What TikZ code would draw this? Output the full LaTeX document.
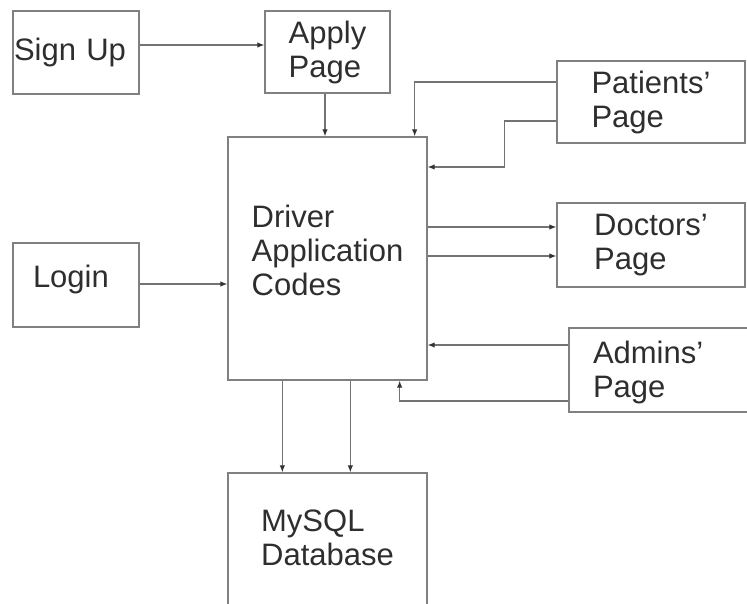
\documentclass[tikz,border=0pt]{standalone}
\usepackage{fontspec}
\setmainfont{Liberation Sans}
\usetikzlibrary{arrows.meta, calc}

\begin{document}
\begin{tikzpicture}[x=1pt, y=-1pt,
  box/.style={draw=black!50, line width=1.3pt, align=left, text=black!82,
    font=\fontsize{31}{34}\selectfont, inner sep=0pt},
  arr/.style={draw=black!55, line width=1.2pt,
    -{Latex[length=7pt, width=5.5pt, color=black!80]}}]
\useasboundingbox (0,0) rectangle (747,604);
\node[box, minimum width=126pt, minimum height=83pt, text width=124pt, inner xsep=1pt] (signup) at (76,52.5) {Sign Up};
\node[box, minimum width=125pt, minimum height=82pt] (apply) at (327.5,52) {Apply\\Page};
\node[box, minimum width=199pt, minimum height=243pt, text depth=17pt] (driver) at (327.5,258.5) {Driver\\Application\\Codes};
\node[box, minimum width=188pt, minimum height=82pt] (patients) at (651,102) {Patients'\\Page};
\node[box, minimum width=188pt, minimum height=84pt] (doctors) at (651,245) {Doctors'\\Page};
\node[box, minimum width=221pt, minimum height=84pt, text width=173pt, inner xsep=24pt, text height=28pt] (admins) at (679.5,370) {Admins'\\Page};
\node[box, minimum width=126pt, minimum height=84pt, text width=86pt, inner xsep=20pt, text depth=18pt] (login) at (76,285) {Login};
\node[box, minimum width=199pt, minimum height=139pt, text depth=9pt] (mysql) at (327.5,542.5) {MySQL\\Database};
% connectors
\draw[arr] ($(signup.east)+(0,-7.5)$) -- ($(apply.west)+(0,-7)$);
\draw[arr] ($(apply.south)+(-2.5,0)$) -- ($(apply.south |- driver.north)+(-2.5,0)$);
\draw[arr] ($(patients.west)+(0,-20)$) -| ($(driver.north east)+(-13,0)$);
\draw[arr] ($(patients.west)+(0,19)$) -- ++(-52,0) |- ($(driver.east)+(0,-91.5)$);
\draw[arr] ($(driver.east |- doctors.west)+(0,-18)$) -- ($(doctors.west)+(0,-18)$);
\draw[arr] ($(driver.east |- doctors.west)+(0,11)$) -- ($(doctors.west)+(0,11)$);
\draw[arr] ($(admins.west)+(0,-25)$) -- ($(driver.east |- admins.west)+(0,-25)$);
\draw[arr] ($(admins.west)+(0,31)$) -| ($(driver.south east)+(-28,0)$);
\draw[arr] ($(login.east)+(0,-1)$) -- ($(login.east -| driver.west)+(0,-1)$);
\draw[arr] ($(driver.south west)+(55,0)$) -- ($(mysql.north west)+(55,0)$);
\draw[arr] ($(driver.south west)+(123,0)$) -- ($(mysql.north west)+(123,0)$);
\end{tikzpicture}
\end{document}
